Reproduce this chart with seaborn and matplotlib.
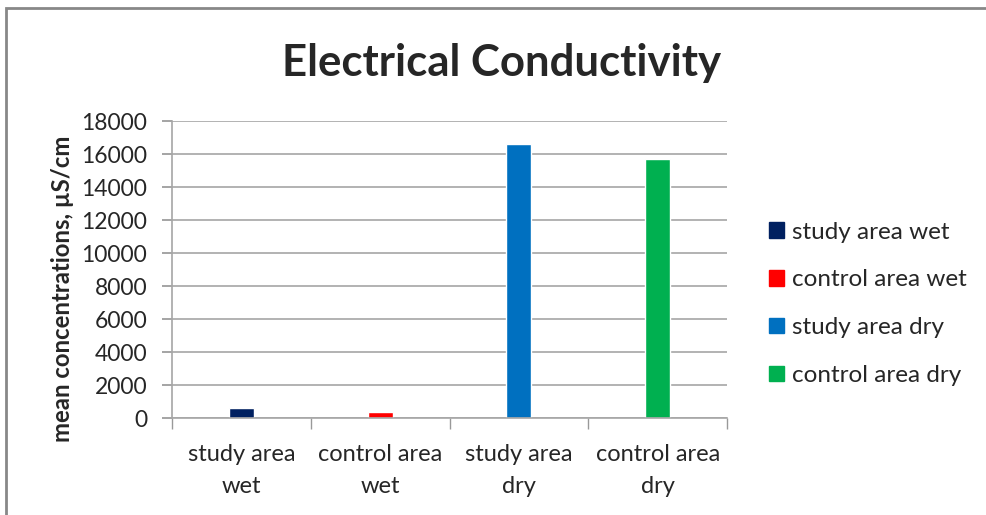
import matplotlib
matplotlib.use("Agg")
import matplotlib.pyplot as plt
import matplotlib.patches as mpatches
import numpy as np
import pandas as pd
import seaborn as sns

# data
categories = ["study area wet", "control area wet", "study area dry", "control area dry"]
tick_labels = ["study area\nwet", "control area\nwet", "study area\ndry", "control area\ndry"]
values = [600, 350, 16580, 15680]
colors = ["#002060", "#FF0000", "#0070C0", "#00B050"]

df = pd.DataFrame({"category": categories, "value": values})

sns.set_theme(style="white")
plt.rcParams["font.family"] = ["Lato", "DejaVu Sans"]

fig = plt.figure(figsize=(9.87, 5.15), dpi=100)
ax = fig.add_axes([0.1743, 0.1883, 0.5623, 0.5767])

sns.barplot(data=df, x="category", y="value", hue="category", palette=colors,
            order=categories, hue_order=categories, dodge=False, width=0.18,
            legend=False, ax=ax, saturation=1)

ax.set_ylim(0, 18000)
ax.set_xlim(-0.5, 3.5)
ax.set_yticks(np.arange(0, 18001, 2000))
ax.tick_params(axis="y", labelsize=16.5, length=7, color="#999999", direction="out", left=True, pad=11)
ax.set_xticks(range(4))
ax.set_xticklabels(tick_labels, fontsize=17, linespacing=1.6)
ax.tick_params(axis="x", which="major", length=0, pad=19)
ax.set_xticks(np.arange(-0.5, 4, 1), minor=True)
ax.tick_params(axis="x", which="minor", length=8, color="#999999", direction="out", bottom=True)
ax.yaxis.grid(True, color="#A6A6A6", linewidth=1.2)
ax.set_axisbelow(True)
for s in ["top", "right"]:
    ax.spines[s].set_visible(False)
for s in ["left", "bottom"]:
    ax.spines[s].set_color("#A6A6A6")
    ax.spines[s].set_linewidth(1.2)

ax.set_xlabel("")
ax.set_ylabel("mean concentrations, µS/cm", fontsize=17.2, fontweight="bold")
ax.yaxis.set_label_coords(-0.176, 0.434)

fig.text(0.508, 0.877, "Electrical Conductivity", fontsize=31.5, fontweight="bold",
         ha="center", va="center")

handles = [mpatches.Patch(color=c, label=l) for c, l in zip(colors, categories)]
fig.legend(handles=handles, loc="center left", bbox_to_anchor=(0.767, 0.41),
           frameon=False, fontsize=17.5, handlelength=0.6, handleheight=0.6,
           handletextpad=0.35, labelspacing=1.1, borderpad=0)

# outer chart border
fig.patches.append(mpatches.Rectangle((6 / 987, -0.1), 1.1, 0.1 + (515 - 8) / 515,
                                      transform=fig.transFigure, fill=False,
                                      edgecolor="#888888", linewidth=2))

fig.savefig("out.png", dpi=100)
